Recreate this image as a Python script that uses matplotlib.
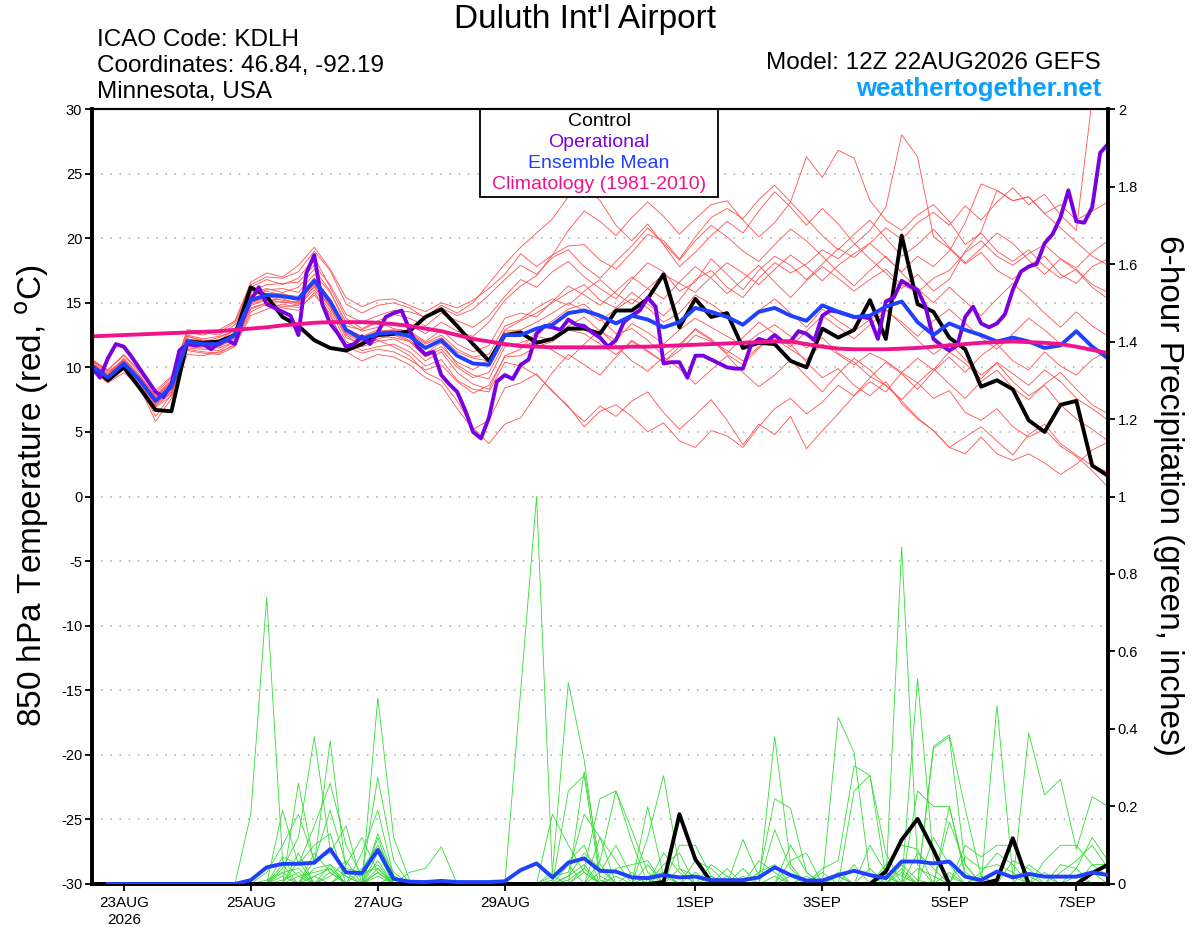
import numpy as np
import matplotlib
matplotlib.use('Agg')
from matplotlib import pyplot as plt
from matplotlib.patches import Rectangle
from matplotlib.ticker import FormatStrFormatter

plt.rcParams['font.family'] = ['Liberation Sans', 'DejaVu Sans']
plt.rcParams['axes.unicode_minus'] = False

# ---- time axis (hours after 12Z 22AUG2026) ----
hours_6h = np.arange(0, 385, 6)
hours_3h = np.arange(0, 385, 3)
hours_pcp = hours_6h[1:]
tick_hours = [12, 60, 108, 156, 228, 276, 324, 372]
tick_labels = ['23AUG\n2026', '25AUG', '27AUG', '29AUG', '1SEP', '3SEP', '5SEP', '7SEP']

# ---- 850 hPa temperature (C) ----
control_t = [10.1, 9.0, 10.0, 8.4, 6.7, 6.6, 12.0, 11.9, 12.0, 12.5,
             16.2, 15.5, 13.9, 13.2, 12.1, 11.5, 11.3, 11.8, 12.5, 12.6,
             12.8, 13.9, 14.5, 13.2, 11.8, 10.5, 12.5, 12.7, 11.9, 12.2,
             13.0, 13.0, 12.6, 14.4, 14.4, 15.3, 17.2, 13.1, 15.3, 13.9,
             14.2, 11.5, 11.9, 11.8, 10.5, 10.0, 13.0, 12.3, 12.9, 15.2,
             12.2, 20.2, 14.9, 14.3, 12.3, 11.4, 8.5, 9.0, 8.3, 5.9,
             5.0, 7.1, 7.4, 2.4, 1.6]

mean_t = [10.1, 9.2, 10.3, 9.0, 7.4, 8.5, 12.0, 11.8, 11.8, 12.5,
          15.2, 15.6, 15.5, 15.3, 16.7, 15.1, 12.9, 12.2, 12.6, 12.7,
          12.4, 11.5, 12.1, 10.9, 10.3, 10.2, 12.5, 12.5, 13.0, 13.3,
          14.2, 14.4, 14.0, 13.4, 14.0, 13.7, 13.1, 13.5, 14.6, 14.3,
          13.9, 13.3, 14.3, 14.6, 14.0, 13.6, 14.8, 14.3, 13.9, 14.0,
          14.7, 15.1, 13.5, 12.5, 13.4, 12.9, 12.5, 12.0, 12.3, 12.0,
          11.5, 11.7, 12.8, 11.6, 10.7]

clim_t = [12.4, 12.45, 12.5, 12.55, 12.6, 12.65, 12.7, 12.75, 12.8, 12.9,
          13.0, 13.1, 13.25, 13.35, 13.45, 13.5, 13.5, 13.5, 13.45, 13.35,
          13.2, 13.0, 12.8, 12.5, 12.2, 12.0, 11.8, 11.65, 11.6, 11.55,
          11.55, 11.55, 11.55, 11.55, 11.6, 11.6, 11.65, 11.7, 11.75, 11.8,
          11.85, 11.9, 11.95, 12.0, 12.0, 11.8, 11.6, 11.45, 11.4, 11.4,
          11.4, 11.45, 11.5, 11.6, 11.7, 11.8, 11.9, 11.95, 12.0, 11.95,
          11.9, 11.8, 11.6, 11.35, 11.1]

# operational run, 3-hourly
oper_t = [10.0, 9.2, 10.7, 11.8, 11.6, 10.8, 9.9, 9.0, 8.1, 7.7,
          8.7, 11.3, 11.8, 11.7, 11.8, 11.4, 11.9, 12.1, 11.8, 13.7,
          15.2, 16.2, 14.9, 14.6, 14.3, 14.0, 12.5, 17.3, 18.7, 14.9,
          13.4, 12.6, 11.6, 11.8, 12.4, 11.8, 12.7, 13.9, 14.2, 14.4,
          12.9, 11.6, 11.0, 11.2, 9.4, 8.7, 8.1, 6.7, 5.0, 4.5,
          6.1, 8.9, 9.4, 9.1, 10.2, 10.6, 12.6, 13.2, 13.1, 12.9,
          13.7, 13.3, 13.2, 12.7, 12.3, 11.6, 12.1, 13.5, 14.0, 14.4,
          15.4, 14.7, 10.3, 10.4, 10.4, 9.2, 10.9, 10.9, 10.6, 10.3,
          10.0, 9.9, 9.9, 11.7, 12.2, 12.0, 12.5, 12.0, 12.0, 12.8,
          12.6, 12.1, 14.0, 14.4, 14.3, 14.1, 13.9, 13.9, 13.8, 12.2,
          15.1, 15.4, 16.7, 16.3, 16.0, 14.7, 12.2, 11.7, 11.3, 11.7,
          13.9, 14.7, 13.4, 13.1, 13.4, 14.1, 16.0, 17.4, 17.8, 18.0,
          19.6, 20.3, 21.6, 23.7, 21.3, 21.2, 22.4, 26.6, 27.3]

# ensemble members, 6-hourly
r01 = [10.5, 9.8, 10.9, 9.6, 8.0, 9.2, 12.9, 12.7, 12.5, 13.3,
       16.2, 16.8, 16.4, 16.9, 18.5, 16.2, 13.8, 13.0, 13.6, 14.1,
       13.8, 13.2, 14.2, 13.6, 13.1, 14.0, 15.5, 16.8, 16.2, 17.4,
       18.2, 17.0, 16.1, 15.3, 16.8, 18.1, 17.4, 15.9, 16.6, 18.4,
       17.2, 16.0, 17.5, 18.6, 17.9, 16.8, 18.0, 19.2, 18.5, 19.6,
       20.8, 19.9, 21.2, 22.0, 21.0, 22.5, 21.4, 22.8, 23.9, 22.6,
       23.4, 21.8, 20.6, 30.8, 31.6]
r02 = [9.9, 9.0, 10.0, 8.8, 7.0, 8.0, 11.6, 11.5, 11.6, 12.2,
       14.8, 15.2, 15.3, 14.9, 16.2, 14.7, 12.3, 11.8, 12.2, 12.5,
       12.0, 11.0, 11.6, 10.4, 9.8, 10.6, 12.9, 13.6, 14.2, 15.0,
       15.8, 16.4, 15.2, 14.6, 15.8, 14.9, 14.0, 15.2, 16.8, 17.5,
       16.2, 15.4, 16.9, 18.1, 17.3, 18.0, 19.1, 18.4, 19.5, 20.6,
       22.4, 28.0, 26.3, 20.1, 19.2, 18.0, 18.9, 17.5, 16.8, 17.9,
       18.6, 17.2, 16.5, 17.8, 18.4]
r03 = [10.3, 9.4, 10.6, 9.3, 7.7, 8.8, 12.4, 12.0, 12.1, 12.9,
       15.6, 16.0, 16.1, 15.8, 17.2, 15.8, 13.5, 12.8, 13.1, 13.4,
       13.3, 12.6, 13.5, 12.8, 12.4, 13.5, 15.2, 16.3, 17.1, 18.7,
       19.4, 19.5, 18.3, 17.6, 18.9, 20.3, 19.8, 18.4, 20.1, 21.6,
       22.3, 21.5, 23.0, 24.1, 22.8, 26.3, 24.7, 26.8, 26.2, 22.9,
       21.4, 20.6, 21.8, 22.6, 21.3, 19.5, 20.4, 19.0, 18.2, 19.1,
       17.8, 16.9, 17.6, 16.4, 15.8]
r04 = [10.0, 9.1, 10.1, 8.7, 6.9, 7.8, 11.3, 11.1, 11.0, 11.6,
       14.3, 14.9, 14.6, 14.4, 15.8, 14.0, 11.6, 11.1, 11.4, 11.2,
       10.6, 9.8, 10.2, 8.9, 8.0, 8.6, 10.8, 10.9, 11.6, 12.0,
       12.9, 12.6, 11.8, 11.0, 12.0, 11.2, 10.4, 11.3, 12.5, 12.0,
       11.3, 10.5, 11.6, 12.2, 11.4, 10.6, 11.8, 11.0, 10.2, 11.1,
       10.5, 9.6, 8.8, 7.6, 8.2, 6.5, 5.9, 6.8, 5.4, 4.6,
       5.2, 3.9, 3.1, 2.0, 0.7]
r05 = [10.2, 9.3, 10.2, 9.0, 7.5, 8.4, 11.8, 11.9, 11.7, 12.3,
       15.0, 15.4, 15.6, 15.5, 16.9, 15.3, 13.0, 12.4, 12.9, 12.6,
       12.1, 11.1, 11.9, 10.2, 9.4, 9.1, 11.6, 11.9, 12.4, 12.1,
       13.2, 13.9, 12.8, 12.1, 13.4, 12.7, 11.8, 12.9, 13.8, 13.1,
       12.4, 11.7, 12.6, 13.3, 12.4, 11.5, 12.3, 11.1, 10.4, 9.3,
       8.6, 7.4, 6.1, 5.1, 3.8, 3.3, 4.6, 3.3, 2.8, 3.3,
       2.6, 1.7, 2.5, 3.6, 4.2]
r06 = [9.7, 8.8, 9.6, 8.5, 5.8, 7.6, 11.0, 10.9, 11.2, 11.7,
       14.0, 14.5, 14.9, 14.6, 15.6, 14.2, 11.2, 10.5, 11.0, 10.8,
       10.2, 9.2, 8.6, 6.8, 5.2, 5.9, 8.4, 8.8, 9.5, 8.1,
       7.0, 5.4, 6.6, 7.1, 6.2, 5.0, 5.7, 4.3, 3.8, 5.1,
       4.7, 3.8, 5.4, 6.8, 7.6, 6.4, 7.3, 8.6, 7.8, 9.2,
       10.4, 9.5, 8.3, 9.7, 10.8, 9.6, 10.9, 11.8, 10.5, 9.8,
       11.2, 10.1, 9.4, 10.6, 11.3]
r07 = [10.6, 9.7, 10.5, 9.2, 7.8, 8.9, 12.5, 12.2, 12.4, 12.8,
       15.8, 16.1, 15.8, 16.2, 17.6, 15.9, 13.2, 12.9, 13.5, 13.0,
       12.8, 12.0, 12.9, 11.8, 11.2, 11.7, 13.8, 14.2, 13.9, 15.1,
       16.3, 15.6, 14.8, 15.9, 17.0, 16.1, 15.3, 16.6, 17.8, 16.9,
       15.7, 16.8, 17.9, 16.6, 15.4, 16.7, 17.8, 16.9, 15.9, 16.8,
       17.6, 16.4, 15.8, 16.9, 17.5, 18.9, 19.8, 18.6, 17.9, 18.8,
       19.5, 18.4, 17.7, 18.9, 19.8]
r08 = [10.1, 9.2, 10.4, 9.1, 7.2, 8.3, 12.1, 11.7, 11.5, 12.0,
       14.6, 15.0, 15.1, 14.8, 16.3, 14.6, 12.5, 11.6, 12.0, 12.2,
       11.6, 10.5, 11.2, 9.6, 8.7, 8.3, 10.9, 11.4, 12.8, 13.6,
       14.5, 14.9, 13.8, 12.6, 13.0, 12.1, 10.9, 11.8, 12.9, 12.1,
       11.0, 10.2, 11.5, 12.4, 11.8, 10.4, 9.2, 9.9, 8.6, 7.8,
       8.9, 7.2, 6.0, 5.1, 3.8, 4.6, 5.4, 4.3, 3.2, 4.8,
       5.6, 4.1, 3.2, 2.4, 1.9]
r09 = [10.4, 9.5, 10.7, 9.4, 7.8, 9.0, 12.7, 12.5, 12.9, 13.6,
       16.6, 17.3, 17.0, 17.9, 19.3, 17.6, 15.4, 14.7, 15.2, 15.3,
       14.8, 14.3, 15.0, 14.6, 15.2, 16.1, 17.2, 18.8, 17.8, 18.7,
       20.6, 22.1, 21.3, 20.2, 21.6, 22.8, 21.7, 20.3, 21.5, 22.6,
       22.9, 21.4, 20.1, 21.2, 22.8, 21.5, 20.2, 19.1, 20.3, 21.4,
       20.0, 18.6, 19.5, 20.7, 19.3, 18.1, 19.2, 20.4, 19.6, 18.3,
       17.2, 18.4, 17.5, 16.2, 15.3]
r10 = [9.8, 9.0, 10.1, 8.9, 7.1, 8.1, 11.5, 11.4, 11.3, 12.0,
       14.9, 15.3, 15.0, 15.1, 16.4, 14.8, 12.6, 11.9, 12.1, 11.6,
       10.9, 9.6, 9.0, 7.4, 5.3, 4.1, 5.6, 6.1, 7.9, 9.6,
       11.0, 10.2, 9.4, 10.8, 12.1, 11.3, 10.4, 11.6, 13.0, 12.2,
       11.1, 12.3, 13.5, 12.6, 11.6, 12.8, 14.0, 13.1, 12.2, 13.3,
       14.4, 13.5, 12.4, 13.6, 14.5, 13.4, 12.3, 11.4, 12.6, 13.8,
       12.9, 11.8, 12.7, 11.6, 10.5]
r11 = [10.3, 9.4, 10.5, 9.2, 7.6, 8.7, 12.2, 12.0, 12.3, 12.9,
       15.9, 16.4, 16.5, 16.6, 17.9, 16.4, 14.1, 13.5, 14.0, 14.4,
       14.3, 13.9, 14.8, 14.2, 15.0, 16.5, 18.0, 19.3, 20.4, 21.5,
       23.2, 24.2, 22.9, 21.0, 19.8, 21.1, 19.5, 17.8, 18.9, 20.2,
       21.3, 20.4, 22.1, 23.6, 22.4, 21.0, 22.3, 21.1, 19.6, 18.4,
       17.3, 16.1, 17.2, 15.9, 16.8, 19.0, 20.5, 23.7, 22.9, 23.2,
       21.9, 20.8, 19.7, 18.6, 17.9]
r12 = [10.0, 9.0, 9.9, 8.6, 6.2, 7.9, 11.4, 11.2, 11.1, 11.8,
       14.5, 15.0, 14.7, 14.8, 16.0, 14.4, 12.0, 11.3, 11.6, 11.8,
       11.2, 10.1, 10.6, 9.0, 8.3, 8.1, 10.4, 10.1, 9.4, 8.2,
       6.9, 5.8, 7.0, 6.2, 7.4, 8.1, 6.5, 5.2, 6.3, 7.5,
       5.9, 4.0, 5.6, 4.8, 6.2, 3.7, 5.1, 6.4, 7.8, 8.9,
       8.1, 9.6, 10.7, 9.8, 11.2, 10.3, 9.1, 10.4, 9.5, 8.6,
       9.8, 8.9, 7.6, 6.8, 5.9]
r13 = [10.2, 9.3, 10.3, 9.0, 7.3, 8.5, 12.2, 12.0, 11.9, 12.6,
       15.3, 15.7, 15.7, 15.4, 16.8, 15.2, 13.0, 12.3, 12.8, 12.9,
       12.6, 11.8, 12.3, 11.2, 10.7, 10.5, 12.8, 12.9, 13.5, 14.2,
       15.0, 14.4, 13.6, 14.5, 15.3, 14.6, 13.5, 14.2, 15.6, 14.9,
       14.0, 13.2, 14.4, 15.3, 14.2, 13.1, 14.5, 13.6, 12.8, 13.7,
       14.5, 13.3, 12.1, 11.0, 11.9, 10.6, 9.4, 10.3, 8.9, 7.8,
       8.6, 7.1, 6.0, 5.2, 4.3]
r14 = [10.5, 9.6, 10.6, 9.3, 7.7, 8.8, 12.4, 12.1, 12.0, 12.7,
       15.5, 15.9, 15.6, 15.3, 16.9, 15.2, 12.8, 12.3, 12.7, 12.9,
       12.7, 11.9, 12.5, 11.4, 10.8, 11.0, 13.2, 13.7, 14.6, 15.3,
       14.8, 15.9, 16.8, 15.7, 14.9, 16.1, 17.2, 16.5, 15.8, 17.0,
       18.1, 17.3, 16.4, 17.6, 18.7, 17.8, 16.7, 17.9, 18.8, 19.6,
       18.5, 17.4, 18.6, 17.8, 19.0, 21.2, 24.2, 23.7, 22.9, 23.2,
       21.9, 22.6, 21.4, 22.1, 22.8]
r15 = [9.9, 9.1, 10.2, 8.9, 7.2, 8.2, 11.7, 11.6, 11.6, 12.4,
       15.0, 15.5, 15.2, 15.0, 16.5, 14.9, 12.7, 12.0, 12.4, 12.3,
       12.0, 10.8, 11.4, 10.0, 9.2, 9.6, 11.9, 11.5, 12.1, 11.3,
       10.6, 11.8, 12.9, 11.7, 10.5, 9.7, 10.8, 9.9, 8.7, 9.8,
       10.9, 9.6, 8.5, 9.4, 10.6, 9.3, 8.1, 9.5, 10.7, 9.8,
       8.6, 7.5, 8.8, 9.9, 8.7, 7.6, 8.9, 9.8, 8.4, 7.5,
       8.7, 9.6, 8.3, 7.1, 6.4]
r16 = [10.6, 9.8, 11.0, 9.7, 8.2, 9.3, 12.9, 12.8, 12.7, 13.5,
       16.4, 17.0, 16.9, 17.4, 19.0, 17.5, 14.9, 14.2, 14.8, 15.0,
       14.6, 13.8, 14.6, 14.0, 14.5, 15.6, 16.8, 17.9, 17.2, 18.5,
       19.1, 17.8, 16.9, 18.2, 19.4, 20.8, 19.6, 18.3, 19.8, 21.0,
       20.1, 19.0, 18.2, 19.5, 20.7, 19.8, 18.6, 17.4, 16.3, 17.5,
       18.6, 17.3, 16.1, 15.0, 16.2, 15.1, 14.0, 15.3, 16.5, 15.4,
       14.2, 13.1, 14.3, 13.2, 12.4]
members_t = [r01, r02, r03, r04, r05, r06, r07, r08,
             r09, r10, r11, r12, r13, r14, r15, r16]

# ---- 6-hour precipitation (inches), step number -> amount ----
control_p = {36: 0.005, 37: 0.18, 38: 0.064, 39: 0.005, 50: 0.032, 51: 0.114,
             52: 0.168, 53: 0.088, 57: 0.01, 58: 0.118, 63: 0.028, 64: 0.05}
mean_p = {10: 0.01, 11: 0.043, 12: 0.052, 13: 0.052, 14: 0.055, 15: 0.09,
          16: 0.03, 17: 0.028, 18: 0.088, 19: 0.013, 20: 0.006, 21: 0.005,
          22: 0.008, 23: 0.005, 24: 0.005, 25: 0.005, 26: 0.007, 27: 0.036,
          28: 0.053, 29: 0.017, 30: 0.055, 31: 0.066, 32: 0.034, 33: 0.032,
          34: 0.017, 35: 0.015, 36: 0.023, 37: 0.017, 38: 0.019, 39: 0.01,
          40: 0.01, 41: 0.01, 42: 0.017, 43: 0.043, 44: 0.023, 45: 0.009,
          46: 0.009, 47: 0.023, 48: 0.034, 49: 0.023, 50: 0.015, 51: 0.058,
          52: 0.058, 53: 0.053, 54: 0.058, 55: 0.019, 56: 0.01, 57: 0.032,
          58: 0.017, 59: 0.026, 60: 0.019, 61: 0.019, 62: 0.019, 63: 0.03,
          64: 0.023}
g01 = {10: 0.18, 11: 0.74, 12: 0.06, 13: 0.02, 18: 0.03, 30: 0.02, 31: 0.05,
       44: 0.02, 52: 0.04, 53: 0.02}
g02 = {12: 0.04, 13: 0.12, 14: 0.38, 15: 0.09, 16: 0.02, 18: 0.13, 19: 0.02,
       27: 0.5, 28: 1.0, 29: 0.02, 36: 0.03, 51: 0.05, 52: 0.01}
g03 = {13: 0.26, 14: 0.05, 15: 0.37, 16: 0.03, 18: 0.48, 19: 0.12, 20: 0.01,
       29: 0.03, 30: 0.52, 31: 0.32, 32: 0.02, 47: 0.02, 51: 0.87, 52: 0.05}
g04 = {12: 0.19, 13: 0.05, 14: 0.15, 15: 0.26, 16: 0.1, 17: 0.02, 18: 0.275,
       19: 0.06, 29: 0.18, 30: 0.1, 31: 0.03, 43: 0.38, 44: 0.05, 52: 0.53,
       53: 0.06, 54: 0.02}
g05 = {11: 0.03, 12: 0.1, 13: 0.18, 14: 0.06, 15: 0.19, 16: 0.05, 17: 0.12,
       18: 0.03, 30: 0.24, 31: 0.28, 32: 0.01, 47: 0.43, 48: 0.34, 49: 0.02,
       57: 0.46, 58: 0.02}
g06 = {12: 0.07, 13: 0.05, 14: 0.1, 15: 0.13, 17: 0.08, 18: 0.19, 19: 0.02,
       31: 0.29, 32: 0.05, 35: 0.2, 36: 0.02, 48: 0.24, 49: 0.28, 50: 0.08,
       53: 0.35, 54: 0.38, 55: 0.05}
g07 = {12: 0.05, 14: 0.06, 15: 0.08, 16: 0.15, 18: 0.12, 20: 0.03, 21: 0.04,
       22: 0.096, 31: 0.04, 32: 0.22, 33: 0.24, 34: 0.14, 35: 0.03, 53: 0.355,
       54: 0.385, 55: 0.195, 56: 0.02}
g08 = {13: 0.08, 15: 0.05, 17: 0.04, 18: 0.1, 19: 0.03, 32: 0.12, 33: 0.06,
       35: 0.12, 36: 0.28, 37: 0.04, 59: 0.39, 60: 0.23, 61: 0.27, 62: 0.09,
       63: 0.225, 64: 0.2}
g09 = {14: 0.04, 15: 0.05, 16: 0.02, 18: 0.08, 30: 0.05, 32: 0.06, 33: 0.24,
       34: 0.11, 41: 0.115, 42: 0.02, 43: 0.22, 44: 0.195, 45: 0.03, 54: 0.2,
       55: 0.02}
g10 = {11: 0.01, 12: 0.03, 13: 0.04, 15: 0.03, 19: 0.02, 29: 0.02, 30: 0.03,
       31: 0.18, 32: 0.12, 37: 0.1, 38: 0.1, 39: 0.02, 43: 0.14, 44: 0.04,
       49: 0.1, 50: 0.03, 54: 0.16, 55: 0.05, 61: 0.05, 62: 0.04}
g11 = {12: 0.02, 14: 0.02, 16: 0.03, 17: 0.02, 18: 0.05, 33: 0.04, 34: 0.05,
       35: 0.06, 38: 0.03, 40: 0.02, 46: 0.04, 47: 0.06, 48: 0.305, 49: 0.28,
       50: 0.02, 52: 0.24, 53: 0.2, 54: 0.2, 55: 0.03, 60: 0.06, 61: 0.1,
       62: 0.1, 63: 0.05, 64: 0.05}
g12 = {13: 0.02, 14: 0.03, 15: 0.04, 18: 0.06, 30: 0.02, 31: 0.08, 32: 0.04,
       36: 0.05, 37: 0.08, 39: 0.05, 40: 0.02, 42: 0.03, 43: 0.05, 45: 0.02,
       50: 0.05, 51: 0.1, 52: 0.09, 55: 0.07, 56: 0.04, 57: 0.05, 58: 0.03,
       63: 0.05, 64: 0.02}
g13 = {12: 0.03, 14: 0.08, 15: 0.03, 18: 0.02, 29: 0.01, 30: 0.06, 31: 0.1,
       33: 0.02, 35: 0.05, 38: 0.06, 39: 0.04, 41: 0.04, 44: 0.06, 45: 0.08,
       47: 0.02, 51: 0.04, 53: 0.12, 54: 0.05, 58: 0.06, 59: 0.04, 61: 0.03,
       62: 0.06, 63: 0.1, 64: 0.04}
g14 = {13: 0.06, 16: 0.04, 17: 0.03, 18: 0.04, 31: 0.03, 34: 0.03, 36: 0.08,
       37: 0.03, 40: 0.04, 42: 0.06, 43: 0.03, 46: 0.03, 48: 0.05, 50: 0.02,
       52: 0.08, 53: 0.04, 56: 0.03, 57: 0.08, 58: 0.05, 60: 0.03, 62: 0.04,
       63: 0.12, 64: 0.06}
g15 = {12: 0.01, 13: 0.03, 15: 0.02, 16: 0.06, 18: 0.04, 32: 0.03, 33: 0.1,
       34: 0.02, 37: 0.04, 38: 0.02, 44: 0.1, 45: 0.03, 49: 0.04, 51: 0.03,
       55: 0.1, 56: 0.07, 57: 0.1, 58: 0.1, 59: 0.02, 62: 0.02}
g16 = {14: 0.02, 15: 0.04, 18: 0.03, 30: 0.01, 31: 0.04, 35: 0.02, 36: 0.03,
       39: 0.02, 41: 0.02, 43: 0.02, 47: 0.03, 50: 0.04, 51: 0.02, 54: 0.03,
       56: 0.02, 59: 0.05, 60: 0.02, 63: 0.03}
members_p = [g01, g02, g03, g04, g05, g06, g07, g08,
             g09, g10, g11, g12, g13, g14, g15, g16]


def pcp_series(steps):
    arr = np.zeros(len(hours_pcp))
    for k, v in steps.items():
        arr[k - 1] = v
    return arr


fig = plt.figure(figsize=(12, 9.27), dpi=100)
ax = fig.add_axes([0.0767, 0.0464, 0.8467, 0.836])
ax2 = ax.twinx()

# temperature
for m in members_t:
    ax.plot(hours_6h, m, color='#ff5050', lw=0.6, zorder=2)
ax.plot(hours_6h, control_t, color='black', lw=2.8, zorder=4)
ax.plot(hours_3h, oper_t, color='#7a00e0', lw=2.8, zorder=5)
ax.plot(hours_6h, mean_t, color='#2040ff', lw=2.8, zorder=6)
ax.plot(hours_6h, clim_t, color='#f0148c', lw=2.8, zorder=7)

# precipitation
for m in members_p:
    ax2.plot(hours_pcp, pcp_series(m), color='#33dd33', lw=0.6, zorder=2)
ax2.plot(hours_pcp, pcp_series(control_p), color='black', lw=2.8, zorder=4)
ax2.plot(hours_pcp, pcp_series(mean_p), color='#2040ff', lw=2.8, zorder=5)

ax.set_xlim(0, 384)
ax.set_ylim(-30, 30)
ax2.set_ylim(0, 2)
ax.set_yticks(np.arange(-30, 31, 5))
ax2.set_yticks(np.arange(0, 2.01, 0.2))
ax2.yaxis.set_major_formatter(FormatStrFormatter('%g'))
ax.set_xticks(tick_hours)
ax.set_xticklabels(tick_labels)

for v in range(-25, 30, 5):
    ax.axhline(v, color='#aaaaaa', lw=1.1, ls=(0, (1, 5)), zorder=1)

ax.tick_params(axis='y', direction='out', length=5, width=1.3, labelsize=10.5, pad=2)
ax.tick_params(axis='x', direction='out', length=5, width=1.3, labelsize=11, pad=4)
ax2.tick_params(axis='y', direction='out', length=5, width=1.3, labelsize=10.5, pad=2)

for a in (ax, ax2):
    for side in ('left', 'right', 'bottom'):
        a.spines[side].set_linewidth(2.6)
    a.spines['top'].set_linewidth(1.5)

# legend box
ax.add_patch(Rectangle((0.382, 0.886), 0.234, 0.114, transform=ax.transAxes,
                       facecolor='white', edgecolor='black', lw=1.3, zorder=10))
legend_items = [('Control', 'black'), ('Operational', '#7a00e0'),
                ('Ensemble Mean', '#2040ff'), ('Climatology (1981-2010)', '#f0148c')]
for k, (txt, col) in enumerate(legend_items):
    ax.text(0.499, 0.9845 - k * 0.0275, txt, color=col, fontsize=14,
            ha='center', va='center', transform=ax.transAxes, zorder=11)

# header texts
fig.text(0.4875, 0.979, "Duluth Int'l Airport", fontsize=24, ha='center', va='center')
fig.text(0.0808, 0.957, 'ICAO Code: KDLH', fontsize=17.5, ha='left', va='center')
fig.text(0.0808, 0.929, 'Coordinates: 46.84, -92.19', fontsize=17.5, ha='left', va='center')
fig.text(0.0808, 0.901, 'Minnesota, USA', fontsize=17.5, ha='left', va='center')
fig.text(0.9175, 0.932, 'Model: 12Z 22AUG2026 GEFS', fontsize=17.5, ha='right', va='center')
fig.text(0.9175, 0.904, 'weathertogether.net', fontsize=18.5, fontweight='bold',
         color='#0aa0ff', ha='right', va='center')

fig.text(0.027, 0.465, r'850 hPa Temperature (red, $^{\mathrm{o}}$C)', fontsize=24,
         rotation=90, ha='center', va='center')
fig.text(0.974, 0.465, '6-hour Precipitation (green, inches)', fontsize=24,
         rotation=270, ha='center', va='center')

fig.savefig('out.png', dpi=100)
